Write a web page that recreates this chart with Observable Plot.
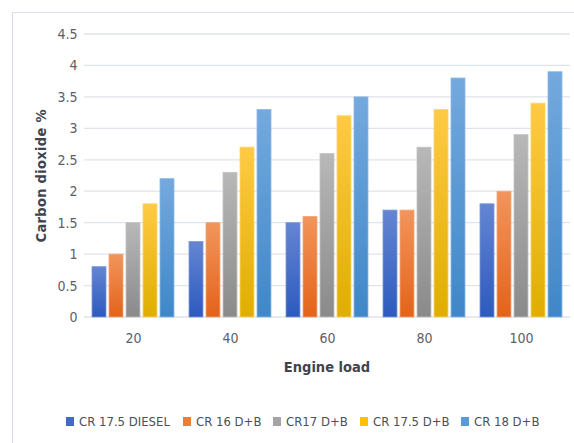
<!DOCTYPE html>
<html>
<head>
<meta charset="utf-8">
<script src="https://cdn.jsdelivr.net/npm/d3@7"></script>
<script src="https://cdn.jsdelivr.net/npm/@observablehq/plot@0.6"></script>
<style>
  html, body { margin: 0; padding: 0; background: #fff; overflow: hidden; }
  #wrap { position: relative; width: 574px; height: 443px; overflow: hidden;
          font-family: "Liberation Sans Narrow", "DejaVu Sans Condensed", "Liberation Sans", Arial, sans-serif; }
  #frame { position: absolute; left: 12px; top: 12px; width: 700px; height: 600px;
           border-left: 1px solid #d9dee6; border-top: 1px solid #d9dee6; }
  #chart { position: absolute; left: 0; top: 0; }
  #legend { position: absolute; left: 0; top: 411px; width: 574px; height: 20px;
            font-size: 13px; color: #4a4f5a; }
  .item { position: absolute; top: 0; display: flex; align-items: center; height: 20px; white-space: nowrap; }
  .sw { width: 8px; height: 9px; margin-right: 5px; }
</style>
</head>
<body>
<div id="wrap">
  <div id="frame"></div>
  <div id="chart"></div>
  <div id="legend"></div>
</div>
<script>
// ---- data ----
const loads = ["20", "40", "60", "80", "100"];
const series = ["CR 17.5 DIESEL", "CR 16 D+B", "CR17 D+B", "CR 17.5 D+B", "CR 18 D+B"];
const diesel175 = [0.8, 1.2, 1.5, 1.7, 1.8];
const db16 = [1.0, 1.5, 1.6, 1.7, 2.0];
const db17 = [1.5, 2.3, 2.6, 2.7, 2.9];
const db175 = [1.8, 2.7, 3.2, 3.3, 3.4];
const db18 = [2.2, 3.3, 3.5, 3.8, 3.9];
const yTicks = [0, 0.5, 1, 1.5, 2, 2.5, 3, 3.5, 4, 4.5];

// ---- styles ----
const gradTop = ["#6585d2", "#f2955c", "#b8b8b8", "#ffca45", "#74a9de"];
const gradBot = ["#2c5abd", "#e3631a", "#8a8a8a", "#dfae00", "#3f87c8"];
const strokes = ["#7d97d8", "#f4a578", "#c4c4c4", "#ffd466", "#8cb8e4"];
const swatch = ["#4169c6", "#ed7d31", "#a5a5a5", "#ffc000", "#5b9bd5"];

const valuesBySeries = [diesel175, db16, db17, db175, db18];
const data = [];
series.forEach((s, i) => loads.forEach((l, j) => data.push({series: s, load: l, value: valuesBySeries[i][j], si: i})));

const marks = [];
series.forEach((s, i) => {
  marks.push(Plot.barY(data.filter(d => d.series === s), {
    fx: "load", x: "series", y: "value",
    fill: `url(#grad${i})`, stroke: strokes[i], strokeWidth: 0.8
  }));
});

const W = 574, ML = 84, MR = 4;
const svg = Plot.plot({
  width: W,
  height: 395,
  marginTop: 34,
  marginBottom: 78,
  marginLeft: ML,
  marginRight: MR,
  style: {fontFamily: '"Liberation Sans Narrow", "DejaVu Sans Condensed", "Liberation Sans", Arial, sans-serif', fontSize: "14px", color: "#5a5f69", background: "transparent"},
  fx: {domain: loads, paddingInner: 0.134, paddingOuter: 0.072, label: null, tickSize: 0, tickPadding: 16},
  x: {domain: series, paddingInner: 0.18, paddingOuter: 0, axis: null},
  y: {domain: [0, 4.5], ticks: yTicks, tickFormat: d => String(d), tickSize: 0, tickPadding: 14, label: null},
  marks
});

const sel = d3.select(svg);
// gradients
const defs = sel.insert("defs", ":first-child");
gradTop.forEach((c, i) => {
  const g = defs.append("linearGradient").attr("id", `grad${i}`)
    .attr("x1", 0).attr("y1", 0).attr("x2", 0).attr("y2", 1);
  g.append("stop").attr("offset", "0%").attr("stop-color", c);
  g.append("stop").attr("offset", "100%").attr("stop-color", gradBot[i]);
});

// continuous horizontal gridlines through Plot's y scale, beneath the bars
const yScale = svg.scale("y");
const grid = sel.insert("g", "defs + *").attr("stroke", "#dfe3ea").attr("stroke-width", 1.3);
yTicks.forEach(t => {
  const yy = yScale.apply(t);
  grid.append("line").attr("x1", ML).attr("x2", W - MR).attr("y1", yy).attr("y2", yy);
});

// axis titles
sel.append("text")
  .attr("x", 327).attr("y", 368)
  .attr("text-anchor", "middle").attr("dominant-baseline", "middle")
  .attr("font-weight", "bold").attr("font-size", "14.5px").attr("fill", "#3f4450")
  .text("Engine load");
sel.append("text")
  .attr("transform", "translate(42,176) rotate(-90)")
  .attr("text-anchor", "middle").attr("dominant-baseline", "middle")
  .attr("font-weight", "bold").attr("font-size", "14.5px").attr("fill", "#3f4450")
  .attr("textLength", 133).attr("lengthAdjust", "spacing")
  .text("Carbon dioxide %");

document.getElementById("chart").appendChild(svg);

// legend
const legendX = [66, 183, 273, 360, 461];
const legend = d3.select("#legend");
series.forEach((s, i) => {
  const it = legend.append("div").attr("class", "item").style("left", legendX[i] + "px");
  it.append("div").attr("class", "sw").style("background", swatch[i]);
  it.append("span").text(s);
});
</script>
</body>
</html>
